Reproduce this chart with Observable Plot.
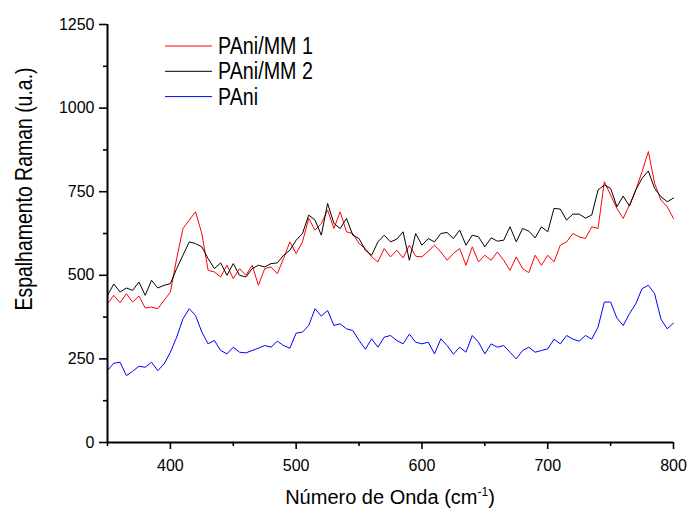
<!DOCTYPE html>
<html>
<head>
<meta charset="utf-8">
<script src="https://cdn.jsdelivr.net/npm/d3@7"></script>
<script src="https://cdn.jsdelivr.net/npm/@observablehq/plot@0.6"></script>
<style>
  body { margin: 0; background: #fff; }
  #chart svg { display: block; }
</style>
</head>
<body>
<div id="chart"></div>
<script>
// Raman shift (cm-1)
const wavenumber = [350,355,360,365,370,375,380,385,390,395,400,405,410,415,420,425,430,435,440,445,450,455,460,465,470,475,480,485,490,495,500,505,510,515,520,525,530,535,540,545,550,555,560,565,570,575,580,585,590,595,600,605,610,615,620,625,630,635,640,645,650,655,660,665,670,675,680,685,690,695,700,705,710,715,720,725,730,735,740,745,750,755,760,765,770,775,780,785,790,795,800];

// PAni/MM 1 (red)
const paniMM1 = [415,440,418,445,420,438,402,405,400,425,450,550,640,665,690,625,515,510,495,530,490,520,500,530,470,520,525,505,550,600,565,600,670,635,655,695,640,690,630,625,595,580,555,540,580,555,575,552,590,557,555,572,590,570,545,565,580,530,585,540,560,545,570,545,515,555,520,508,560,530,560,540,590,600,625,615,610,645,640,780,740,700,670,710,755,810,870,775,725,705,670];

// PAni/MM 2 (black)
const paniMM2 = [440,474,450,462,455,480,440,485,462,470,475,520,560,600,595,585,550,520,537,500,535,500,495,520,530,525,535,537,560,575,605,625,680,665,620,715,655,640,670,620,610,575,560,600,620,600,608,630,545,625,590,610,600,625,628,610,635,590,620,615,585,612,602,605,645,600,640,632,612,645,630,700,698,665,683,683,671,680,755,770,760,705,737,707,755,790,812,760,735,720,731];

// PAni (blue)
const pani = [215,237,240,200,213,228,225,240,215,235,270,315,370,400,380,330,295,305,275,265,285,270,268,275,282,290,285,303,290,282,327,330,350,400,378,395,350,355,340,335,305,279,310,285,315,320,305,295,324,300,295,300,265,310,290,264,285,270,320,300,265,295,285,290,270,250,275,285,270,275,280,309,295,320,309,303,320,309,345,420,420,372,350,385,415,460,470,445,369,340,357];

const seriesNames = ["PAni/MM 1", "PAni/MM 2", "PAni"];
const seriesColors = ["#ff0000", "#000000", "#0000ff"];
const seriesValues = [paniMM1, paniMM2, pani];

const xMajor = [400, 500, 600, 700, 800];
const xMinor = [350, 450, 550, 650, 750];
const yMajor = [0, 250, 500, 750, 1000, 1250];
const yMinor = [125, 375, 625, 875, 1125];
const xDomain = [350, 800];
const yDomain = [0, 1250];

const rows = [];
seriesNames.forEach((name, k) => {
  wavenumber.forEach((w, i) => rows.push({ series: name, w, v: seriesValues[k][i] }));
});

const fmt = d => String(d);

const chart = Plot.plot({
  width: 688,
  height: 508,
  marginLeft: 107,
  marginRight: 15,
  marginTop: 24,
  marginBottom: 66,
  style: { fontFamily: "'Liberation Sans', Arial, sans-serif", fontSize: "16px", color: "#000", background: "#fff", overflow: "visible" },
  x: { domain: xDomain, label: null },
  y: { domain: yDomain, label: null },
  color: { domain: seriesNames, range: seriesColors },
  marks: [
    ...seriesNames.map(name =>
      Plot.line(rows.filter(d => d.series === name), { x: "w", y: "v", stroke: "series", strokeWidth: 1 })
    ),
    Plot.axisX(xMajor, { tickSize: 7, tickPadding: 10, strokeWidth: 1.6, label: null, fill: "#000", tickFormat: fmt }),
    Plot.axisX(xMinor, { tickSize: 4, strokeWidth: 1.6, label: null, tickFormat: () => "" }),
    Plot.axisY(yMajor, { tickSize: 8, tickPadding: 5, strokeWidth: 1.6, label: null, fill: "#000", tickFormat: fmt }),
    Plot.axisY(yMinor, { tickSize: 4, strokeWidth: 1.6, label: null, tickFormat: () => "" }),
    Plot.ruleY([yDomain[0]], { stroke: "#000", strokeWidth: 2 }),
    Plot.ruleX([xDomain[0]], { stroke: "#000", strokeWidth: 2 })
  ]
});

const svg = d3.select(chart);

// X axis title with superscript
const xt = svg.append("text")
  .attr("x", 390).attr("y", 504)
  .attr("text-anchor", "middle")
  .attr("font-size", 20)
  .attr("fill", "#000")
  .attr("font-family", "'Liberation Sans', Arial, sans-serif");
xt.append("tspan").text("Número de Onda (cm");
xt.append("tspan").attr("dy", -8).attr("font-size", 12).text("-1");
xt.append("tspan").attr("dy", 8).text(")");

// Y axis title (condensed)
svg.append("text")
  .attr("transform", "translate(32,189) rotate(-90)")
  .attr("text-anchor", "middle")
  .attr("font-size", 24)
  .attr("fill", "#000")
  .attr("font-family", "'Liberation Sans', Arial, sans-serif")
  .attr("textLength", 243)
  .attr("lengthAdjust", "spacingAndGlyphs")
  .text("Espalhamento Raman (u.a.)");

// Legend
const legendWidths = [95, 95, 40];
seriesNames.forEach((name, k) => {
  const y = 46 + k * 25.3;
  svg.append("line")
    .attr("x1", 165).attr("x2", 212)
    .attr("y1", y).attr("y2", y)
    .attr("stroke", seriesColors[k]).attr("stroke-width", 1);
  svg.append("text")
    .attr("x", 218).attr("y", y + 8)
    .attr("text-anchor", "start")
    .attr("font-size", 23)
    .attr("fill", "#000")
    .attr("font-family", "'Liberation Sans', Arial, sans-serif")
    .attr("textLength", legendWidths[k])
    .attr("lengthAdjust", "spacingAndGlyphs")
    .text(name);
});

document.getElementById("chart").appendChild(chart);
</script>
</body>
</html>
